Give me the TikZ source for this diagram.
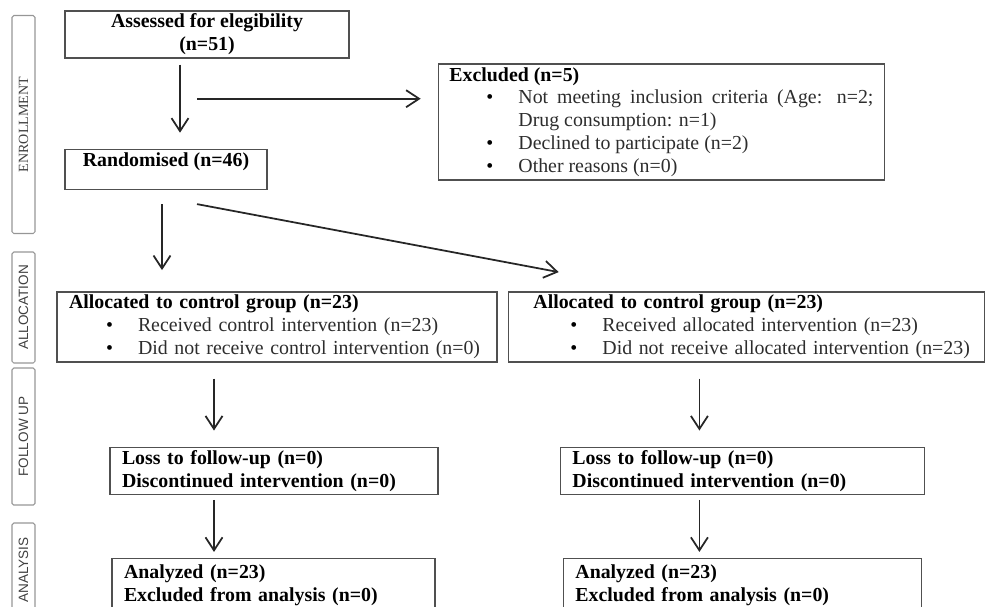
\documentclass[tikz,border=0pt]{standalone}
\usepackage{fontspec}
\setmainfont{Liberation Serif}
\setsansfont{Liberation Sans}
\usepackage{tikz}
\usetikzlibrary{arrows.meta, positioning}
\usepackage{xcolor}
\definecolor{boxGray}{RGB}{80,80,80}
\definecolor{itemGray}{RGB}{45,45,45}
\definecolor{phaseGray}{RGB}{150,150,150}
\newcommand{\bitem}[2][0cm]{\par\leftskip=\dimexpr1.38cm+#1\relax\noindent\llap{\makebox[0.64cm][l]{\textbullet}}{\color{itemGray}#2}\par}

\begin{document}
\begin{tikzpicture}[
    box/.style={rectangle, draw=boxGray, line width=0.8pt, inner xsep=0.24cm, inner ysep=0pt, font=\fontsize{11.3}{13}\selectfont},
    phase/.style={rectangle, draw=phaseGray, line width=0.6pt, rounded corners=1pt, rotate=90, minimum height=0.46cm, inner sep=0pt, text=black!75, font=\sffamily\fontsize{7.7}{8}\selectfont},
    arrow/.style={-{Straight Barb[length=2.6mm,width=3.4mm]}, line width=1pt, draw=black!85}
]
\clip (0,0) rectangle (19.7,-12.12);

\node[box, minimum width=5.68cm, minimum height=0.94cm, align=center] (assessed) at (4.14,-0.69) {\textbf{Assessed for elegibility}\\\textbf{(n=51)}};
\node[box, below=1.8cm of assessed.south west, anchor=north west, minimum width=4.04cm, text height=0.24cm, text depth=0.36cm, inner ysep=0.1cm] (rand) {\textbf{Randomised (n=46)}};
\node[box, below right=1.06cm and 1.76cm of assessed.north east, anchor=north west, text width=8.48cm, minimum height=2.32cm, align=justify, inner xsep=0.22cm] (excluded) {\noindent\textbf{Excluded (n=5)}\bitem{Not meeting inclusion criteria (Age: n=2; Drug consumption: n=1)}\bitem{Declined to participate (n=2)}\bitem{Other reasons (n=0)}};

\node[box, below=2.02cm of rand.south west, anchor=north west, xshift=-0.16cm, text width=8.32cm, minimum height=1.4cm, align=left] (allocL) {\textbf{Allocated to control group (n=23)}\bitem{Received control intervention (n=23)}\bitem{Did not receive control intervention (n=0)}};
\node[box, right=0.2cm of allocL.north east, anchor=north west, text width=9.04cm, minimum height=1.4cm, align=left] (allocR) {\hspace*{0.26cm}\textbf{Allocated to control group (n=23)}\bitem[0.26cm]{Received allocated intervention (n=23)}\bitem[0.26cm]{Did not receive allocated intervention (n=23)}};

\node[box, below=1.68cm of allocL.south west, anchor=north west, xshift=1.06cm, text width=6.08cm, minimum height=0.94cm, align=left] (lossL) {\textbf{Loss to follow-up (n=0)}\\\textbf{Discontinued intervention (n=0)}};
\node[box, below=1.68cm of allocR.south west, anchor=north west, xshift=1.04cm, text width=6.8cm, minimum height=0.94cm, align=left] (lossR) {\textbf{Loss to follow-up (n=0)}\\\textbf{Discontinued intervention (n=0)}};
\node[box, below=1.26cm of lossL.south west, anchor=north west, xshift=0.04cm, text width=5.98cm, inner ysep=0.12cm, align=left] (analL) {\textbf{Analyzed (n=23)}\\\textbf{Excluded from analysis (n=0)}\\\strut};
\node[box, below=1.26cm of lossR.south west, anchor=north west, xshift=0.06cm, text width=6.68cm, inner ysep=0.12cm, align=left] (analR) {\textbf{Analyzed (n=23)}\\\textbf{Excluded from analysis (n=0)}\\\strut};

\node[phase, font=\fontsize{8}{9}\selectfont, minimum width=4.36cm] (enroll) at (0.47,-2.49) {ENROLLMENT};
\node[phase, minimum width=2.22cm] (alloc) at (0.47,-6.15) {ALLOCATION};
\node[phase, minimum width=2.74cm] (follow) at (0.47,-8.73) {FOLLOW UP};
\node[phase, minimum width=1.88cm] (analysis) at (0.47,-11.4) {ANALYSIS};

\coordinate (colA) at ([xshift=-0.54cm]assessed.south);
\coordinate[below=0.8cm of assessed.south, xshift=-0.2cm] (split);
\coordinate (colB) at ([xshift=-0.08cm]rand.south);
\coordinate (colL) at ([xshift=-1.26cm]allocL.south);
\coordinate (colR) at ([xshift=-0.94cm]allocR.south);

\draw[arrow, shorten <=0.12cm, shorten >=0.32cm] (colA) -- (colA |- rand.north);
\draw[arrow, shorten >=0.34cm] (split) -- (split -| excluded.west);
\draw[arrow, shorten <=0.28cm, shorten >=0.42cm] (colB) -- (colB |- allocL.north);
\draw[arrow] ([xshift=0.62cm,yshift=-0.28cm]rand.south) -- ([xshift=1.02cm,yshift=0.38cm]allocR.north west);
\draw[arrow, shorten <=0.32cm, shorten >=0.32cm] (colL) -- (colL |- lossL.north);
\draw[arrow, shorten <=0.1cm, shorten >=0.12cm] (colL |- lossL.south) -- (colL |- analL.north);
\draw[arrow, shorten <=0.32cm, shorten >=0.32cm] (colR) -- (colR |- lossR.north);
\draw[arrow, shorten <=0.1cm, shorten >=0.12cm] (colR |- lossR.south) -- (colR |- analR.north);

\end{tikzpicture}
\end{document}
